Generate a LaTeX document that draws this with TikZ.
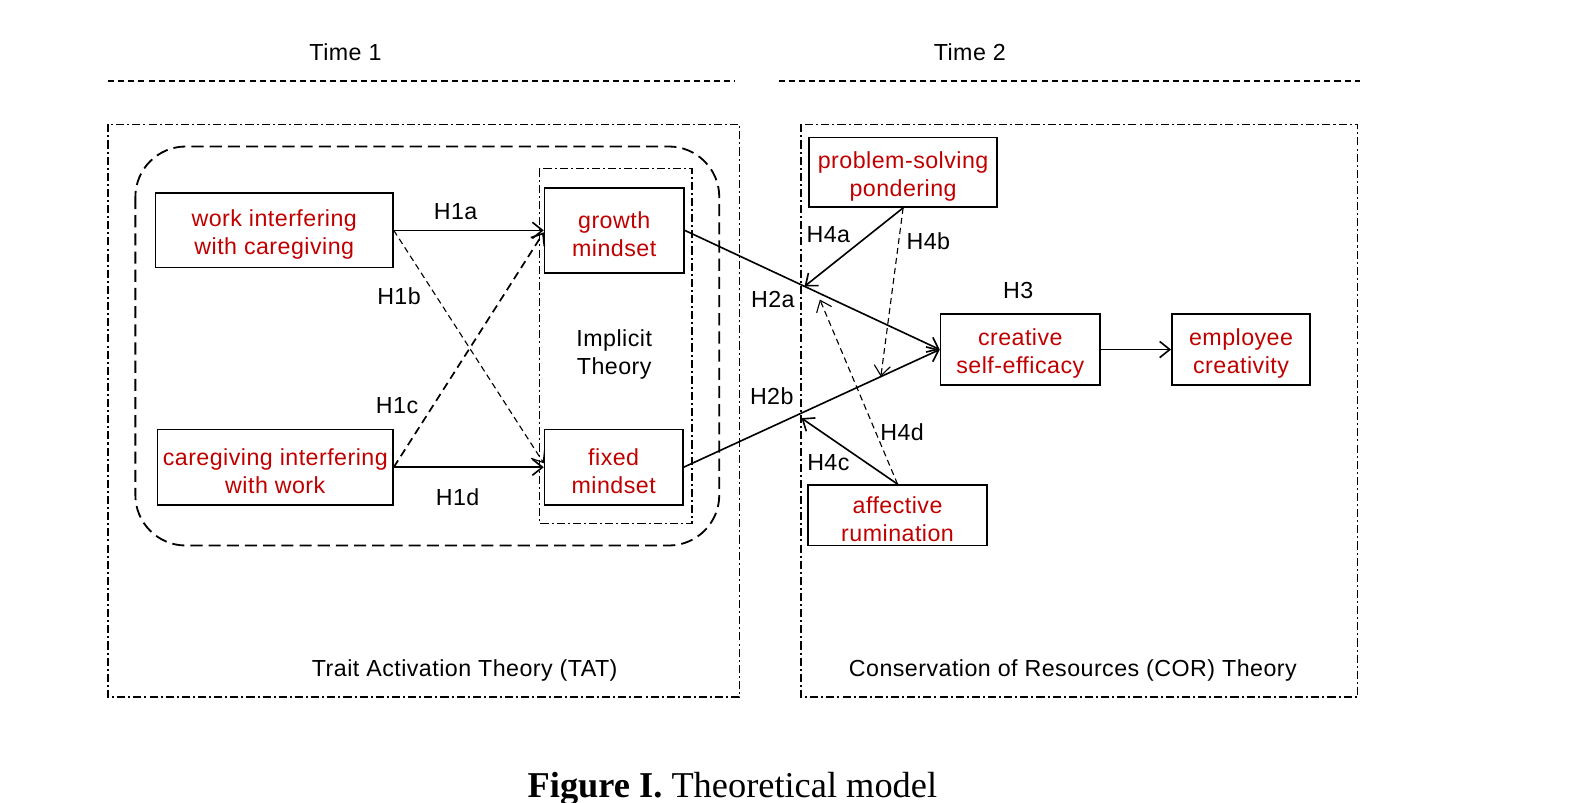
\documentclass[tikz,border=0pt]{standalone}
\usepackage{fontspec}
\setmainfont[LetterSpace=2.0]{Liberation Sans}
\newfontfamily\capfont{Liberation Serif}
\usetikzlibrary{arrows.meta,calc}
\definecolor{boxred}{RGB}{192,0,0}
\newcommand\toplift{\rule{0pt}{12.5pt}}
\begin{document}
\begin{tikzpicture}[x=0.5pt,y=-0.5pt,
  every node/.style={font=\fontsize{11.5}{14}\selectfont, inner sep=0pt},
  box/.style={draw, line width=0.75pt, text=boxred, align=center},
  arr/.style={line width=0.8pt, -{Straight Barb[length=5pt,width=8pt]}},
  darr/.style={arr, dash pattern=on 3pt off 2pt, line width=0.55pt},
  tdarr/.style={arr, dash pattern=on 4pt off 2.5pt, line width=0.85pt},
  dashdot/.style={line width=0.6pt, dash pattern=on 4pt off 1.5pt on 1pt off 1.5pt},
  timeline/.style={line width=0.9pt, dash pattern=on 3pt off 2pt},
  roundbox/.style={line width=0.9pt, dash pattern=on 6pt off 3pt, rounded corners=25pt},
]
\useasboundingbox (0,0) rectangle (1568,794);

% time headers
\node (t1) at (342,52) {Time 1};
\node (t2) at (960,52) {Time 2};
\draw[timeline] (107,80) -- (728,80);
\draw[timeline] (771,80) -- (1346,80);

% frames
\draw[dashdot] (107,123) rectangle (732,690);
\draw[dashdot] (793,123) rectangle (1344,690);
\draw[roundbox] (134,145) rectangle (712,540);
\draw[dashdot] (534,167) rectangle (685,518);

% boxes
\node[box, minimum width=117.5pt, minimum height=37pt] (wic) at (271.5,228) {\toplift work interfering\\with caregiving};
\node[box, minimum width=116.5pt, minimum height=37.5pt] (ciw) at (272.5,462.5) {\toplift caregiving interfering\\with work};
\node[box, minimum width=69pt, minimum height=42pt] (gm) at (608,228) {\toplift growth\\mindset};
\node[box, minimum width=68.5pt, minimum height=37.5pt] (fm) at (607.5,462.5) {\toplift fixed\\mindset};
\node[box, minimum width=93pt, minimum height=34.5pt] (psp) at (894,170.5) {\toplift problem-solving\\pondering};
\node[box, minimum width=79pt, minimum height=35pt] (cse) at (1010,346) {\toplift creative\\self-efficacy};
\node[box, minimum width=68.5pt, minimum height=35pt] (ec) at (1228.5,346) {\toplift employee\\creativity};
\node[box, minimum width=88.5pt, minimum height=30pt] (ar) at (888.5,510) {\toplift affective\\rumination};

\node[align=center] (imp) at (608,347) {\toplift Implicit\\Theory};
\node (tat) at (460,664) {Trait Activation Theory (TAT)};
\node (cor) at (1062,664) {Conservation of Resources (COR) Theory};

% connectors
\draw[arr] (wic.east) -- (gm.west);
\draw[arr] (ciw.east) -- (fm.west);
\draw[darr] (wic.east) -- ($(fm.west)+(0,-4)$);
\draw[tdarr] (ciw.east) -- ($(gm.west)+(0,2)$);
\draw[arr] (gm.east) -- (cse.west);
\draw[arr] (fm.east) -- (cse.west);
\draw[arr] (cse.east) -- (ec.west);

\coordinate (h4at) at ($(gm.east)!0.47!(cse.west)$);
\coordinate (h4dt) at ($(gm.east)!0.53!(cse.west)+(0,6)$);
\coordinate (h4bt) at ($(fm.east)!0.77!(cse.west)$);
\coordinate (h4ct) at ($(fm.east)!0.46!(cse.west)+(0,5)$);
\draw[arr] (psp.south) -- (h4at);
\draw[darr] (psp.south) -- (h4bt);
\draw[arr] (ar.north) -- (h4ct);
\draw[darr] (ar.north) -- (h4dt);

% labels
\node (l1a) at (451,209) {H1a};
\node (l1b) at (395,293) {H1b};
\node (l1c) at (393,402) {H1c};
\node (l1d) at (453,492) {H1d};
\node (l2a) at (765,296) {H2a};
\node (l2b) at (764,392) {H2b};
\node (l3) at (1008,288) {H3};
\node (l4a) at (820,232) {H4a};
\node (l4b) at (919,239) {H4b};
\node (l4c) at (820,458) {H4c};
\node (l4d) at (893,428) {H4d};

% caption
\node[anchor=base, font=\capfont\fontsize{18}{20}\selectfont] (cap) at (725,789) {\textbf{Figure I.} Theoretical model};
\end{tikzpicture}
\end{document}
